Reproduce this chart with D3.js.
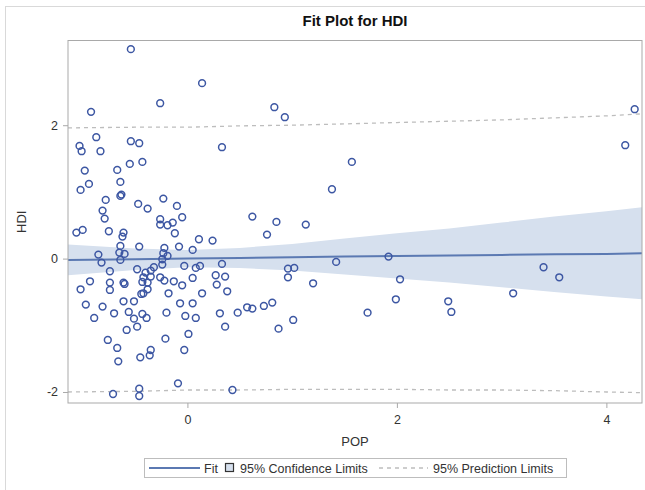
<!DOCTYPE html>
<html>
<head>
<meta charset="utf-8">
<script src="https://cdn.jsdelivr.net/npm/d3@7"></script>
<style>
  html, body { margin: 0; padding: 0; background: #fff; }
  svg { display: block; font-family: "Liberation Sans", Arial, sans-serif; }
</style>
</head>
<body>
<svg id="chart" width="645" height="490"></svg>
<script>
// ---- Data ----
const popValues = [
  -0.54, 0.14, -0.26, -0.92, 0.83, 0.93, -0.87, -1.03, -1.01, -0.83,
  -0.54, -0.46, 0.33, 1.57, -0.98, -0.67, -0.55, -0.43, -0.64, -0.94,
  -1.02, -0.63, -0.64, 1.38, -0.78, -0.23, -0.47, -0.38, -0.10, -0.81,
  -0.79, -0.05, -0.26, -0.14, -0.19, -0.26, 0.62, 0.85, 1.13, 4.27,
  4.18, 0.76, -1.06, -1.00, -0.75, -0.61, -0.62, -0.12, 0.11, 0.24,
  -0.64, -0.46, -0.22, -0.08, 0.05, -0.65, -0.60, -0.85, -0.23, -0.19,
  -0.24, -0.64, -0.82, 0.33, 1.42, -0.24, -0.03, 0.08, 0.12, -0.74,
  -0.48, -0.40, -0.35, -0.32, -0.42, -0.35, -0.43, -0.38, -0.26, -0.22,
  -0.13, -0.05, 0.05, 0.27, 0.36, 0.28, 0.38, 0.96, 1.02, 0.96,
  1.20, -0.93, -1.02, -0.74, -0.74, -0.61, -0.60, -0.38, -0.18, 0.14,
  -0.97, -0.81, -0.61, -0.51, -0.44, -0.42, -0.07, 0.05, -0.89, -0.70,
  -0.56, -0.51, -0.43, -0.39, -0.20, -0.02, 0.08, 0.31, 0.48, 0.57,
  0.62, 0.73, 0.81, 0.36, 0.87, 1.01, -0.58, -0.48, 0.01, -0.76,
  -0.67, -0.21, -0.35, -0.36, -0.45, -0.03, -0.66, -0.09, 0.43, -0.71,
  -0.46, -0.46, 1.92, 2.03, 1.99, 1.72, 2.49, 2.52, 3.11, 3.40,
  3.55
];
const hdiValues = [
  3.14, 2.63, 2.33, 2.20, 2.27, 2.12, 1.82, 1.69, 1.61, 1.61,
  1.76, 1.73, 1.67, 1.45, 1.32, 1.33, 1.42, 1.45, 1.15, 1.12,
  1.03, 0.96, 0.94, 1.04, 0.88, 0.90, 0.82, 0.75, 0.79, 0.72,
  0.60, 0.62, 0.59, 0.54, 0.50, 0.51, 0.63, 0.55, 0.51, 2.24,
  1.70, 0.36, 0.39, 0.43, 0.41, 0.39, 0.33, 0.38, 0.29, 0.27,
  0.19, 0.18, 0.16, 0.18, 0.13, 0.09, 0.07, 0.06, 0.08, 0.04,
  -0.01, -0.02, -0.06, -0.08, -0.05, -0.09, -0.11, -0.14, -0.11, -0.19,
  -0.16, -0.21, -0.18, -0.13, -0.28, -0.27, -0.35, -0.36, -0.28, -0.33,
  -0.34, -0.40, -0.29, -0.25, -0.27, -0.39, -0.49, -0.15, -0.14, -0.28,
  -0.37, -0.34, -0.46, -0.36, -0.47, -0.36, -0.38, -0.46, -0.52, -0.52,
  -0.69, -0.72, -0.64, -0.64, -0.53, -0.52, -0.67, -0.67, -0.89, -0.82,
  -0.80, -0.90, -0.83, -0.89, -0.81, -0.86, -0.89, -0.82, -0.81, -0.73,
  -0.75, -0.71, -0.66, -1.02, -1.05, -0.92, -1.07, -1.02, -1.13, -1.22,
  -1.34, -1.20, -1.37, -1.45, -1.48, -1.37, -1.54, -1.87, -1.97, -2.03,
  -1.95, -2.06, 0.03, -0.31, -0.61, -0.81, -0.64, -0.80, -0.52, -0.13,
  -0.28
];
// Fit line, 95% confidence and prediction limits (sampled along POP)
const fitPop  = [-1.14, -0.5, 0, 0.5, 1, 1.5, 2, 2.5, 3, 3.5, 4, 4.34];
const fitHdi  = [-0.02, -0.01, 0.00, 0.01, 0.02, 0.03, 0.04, 0.045, 0.055, 0.065, 0.07, 0.08];
const clLower = [-0.25, -0.17, -0.13, -0.14, -0.18, -0.24, -0.30, -0.36, -0.43, -0.50, -0.57, -0.61];
const clUpper = [0.21, 0.15, 0.13, 0.16, 0.22, 0.30, 0.38, 0.45, 0.54, 0.63, 0.71, 0.77];
const plLower = [-2.00, -1.99, -1.97, -1.97, -1.96, -1.96, -1.96, -1.97, -1.97, -1.98, -2.00, -2.01];
const plUpper = [1.96, 1.97, 1.97, 1.99, 2.00, 2.02, 2.04, 2.06, 2.08, 2.11, 2.14, 2.17];
const xTicks = [0, 2, 4];
const yTicks = [-2, 0, 2];
const titleText = "Fit Plot for HDI";
const xLabel = "POP";
const yLabel = "HDI";
const legendLabels = ["Fit", "95% Confidence Limits", "95% Prediction Limits"];

// ---- Layout ----
const svg = d3.select("#chart");
const L = 68, R = 642, T = 40.5, B = 403;
const x = d3.scaleLinear().domain([-1.14, 4.34]).range([L, R]);
const y = d3.scaleLinear().domain([-2.165, 3.27]).range([B, T]);

const markColor = "#3d57a3";
const bandColor = "#d6e0ee";
const fitColor = "#5b79b2";
const frameColor = "#a9a9a9";
const textColor = "#333";

// outer frame
svg.append("rect").attr("x", 5.5).attr("y", 6.5).attr("width", 700).attr("height", 600)
  .attr("fill", "none").attr("stroke", "#d9d9d9");

// title
svg.append("text").attr("x", (L + R) / 2).attr("y", 26).attr("text-anchor", "middle")
  .attr("font-size", 15).attr("font-weight", "bold").attr("fill", "#111").text(titleText);

const fitRows = fitPop.map((p, i) => ({ p, f: fitHdi[i], cl: clLower[i], cu: clUpper[i], pl: plLower[i], pu: plUpper[i] }));

const clip = svg.append("defs").append("clipPath").attr("id", "plotclip");
clip.append("rect").attr("x", L).attr("y", T).attr("width", R - L).attr("height", B - T);
const g = svg.append("g").attr("clip-path", "url(#plotclip)");

// confidence band
g.append("path").datum(fitRows)
  .attr("d", d3.area().x(d => x(d.p)).y0(d => y(d.cl)).y1(d => y(d.cu)))
  .attr("fill", bandColor);

// prediction limits
[ "pl", "pu" ].forEach(k => {
  g.append("path").datum(fitRows)
    .attr("d", d3.line().x(d => x(d.p)).y(d => y(d[k])))
    .attr("fill", "none").attr("stroke", "#bdbdbd").attr("stroke-width", 1.3)
    .attr("stroke-dasharray", "4,4");
});

// fit line
g.append("path").datum(fitRows)
  .attr("d", d3.line().x(d => x(d.p)).y(d => y(d.f)))
  .attr("fill", "none").attr("stroke", fitColor).attr("stroke-width", 2);

// points
g.selectAll("circle.pt").data(popValues.map((p, i) => [p, hdiValues[i]]))
  .enter().append("circle").attr("class", "pt")
  .attr("cx", d => x(d[0])).attr("cy", d => y(d[1])).attr("r", 3.4)
  .attr("fill", "none").attr("stroke", markColor).attr("stroke-width", 1.5);

// frame
svg.append("rect").attr("x", L).attr("y", T).attr("width", R - L).attr("height", B - T)
  .attr("fill", "none").attr("stroke", frameColor).attr("stroke-width", 1);

// axes
const xAxis = svg.append("g").attr("transform", `translate(0,${B})`)
  .call(d3.axisBottom(x).tickValues(xTicks).tickSize(5).tickPadding(7).tickFormat(d3.format("d")));
const yAxis = svg.append("g").attr("transform", `translate(${L},0)`)
  .call(d3.axisLeft(y).tickValues(yTicks).tickSize(5).tickPadding(5).tickFormat(d => d < 0 ? "-" + Math.abs(d) : d));
[xAxis, yAxis].forEach(a => {
  a.select(".domain").remove();
  a.selectAll(".tick line").attr("stroke", frameColor);
  a.selectAll(".tick text").attr("fill", textColor).attr("font-size", 12.5)
    .attr("font-family", "'Liberation Sans', Arial, sans-serif");
});

// axis labels
svg.append("text").attr("x", (L + R) / 2).attr("y", 446).attr("text-anchor", "middle")
  .attr("font-size", 13).attr("fill", textColor).text(xLabel);
svg.append("text").attr("transform", `translate(26,${(T + B) / 2}) rotate(-90)`)
  .attr("text-anchor", "middle").attr("font-size", 13).attr("fill", textColor).text(yLabel);

// legend
const lg = svg.append("g");
lg.append("rect").attr("x", 144.5).attr("y", 458.5).attr("width", 422).attr("height", 19)
  .attr("fill", "#fff").attr("stroke", "#bdbdbd");
const ly = 468;
lg.append("line").attr("x1", 149).attr("x2", 200).attr("y1", ly).attr("y2", ly)
  .attr("stroke", fitColor).attr("stroke-width", 2);
lg.append("text").attr("x", 204).attr("y", ly + 4.5).attr("font-size", 12.5).attr("fill", textColor).text(legendLabels[0]);
lg.append("rect").attr("x", 225.5).attr("y", ly - 4.5).attr("width", 8).attr("height", 8)
  .attr("fill", bandColor).attr("stroke", "#333").attr("stroke-width", 1.2);
lg.append("text").attr("x", 240).attr("y", ly + 4.5).attr("font-size", 12.5).attr("fill", textColor).text(legendLabels[1]);
lg.append("line").attr("x1", 379).attr("x2", 428).attr("y1", ly).attr("y2", ly)
  .attr("stroke", "#bdbdbd").attr("stroke-width", 1.3).attr("stroke-dasharray", "4,4");
lg.append("text").attr("x", 433).attr("y", ly + 4.5).attr("font-size", 12.5).attr("fill", textColor).text(legendLabels[2]);
</script>
</body>
</html>
